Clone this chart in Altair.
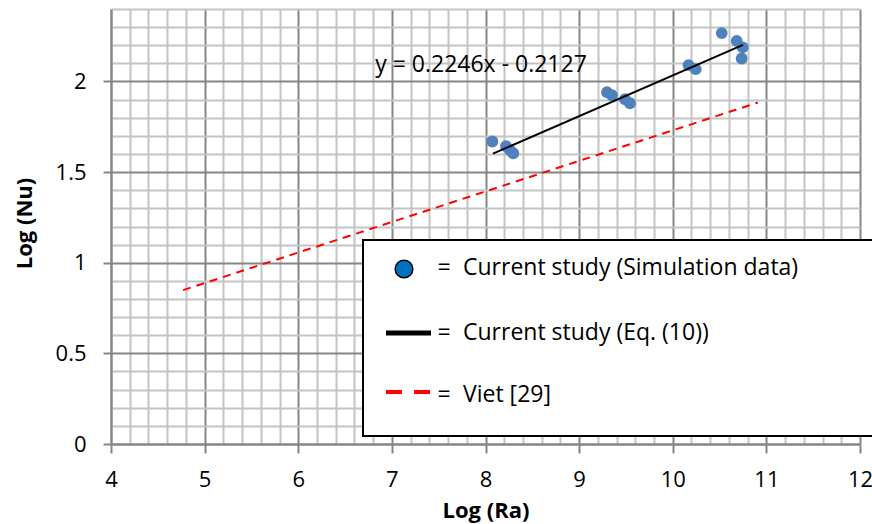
import altair as alt
import pandas as pd

# ---- data ----
ra = [8.073, 8.219, 8.262, 8.297, 9.298, 9.351, 9.490, 9.543,
      10.169, 10.245, 10.523, 10.683, 10.747, 10.736]
nu = [1.669, 1.643, 1.621, 1.604, 1.941, 1.924, 1.902, 1.880,
      2.090, 2.068, 2.267, 2.224, 2.188, 2.127]
fit_ra = [8.08, 10.75]
fit_nu = [1.602, 2.202]
viet_ra = [4.77, 10.91]
viet_nu = [0.849, 1.884]
x_ticks = [round(4 + 0.2 * i, 1) for i in range(41)]
y_ticks = [round(0.1 * i, 1) for i in range(25)]
legend_labels = ["Current study (Simulation data)", "Current study (Eq. (10))", "Viet [29]"]
equation = "y = 0.2246x - 0.2127"

FONT = "Open Sans"
MAJOR = "#868686"
MINOR = "#C4C4C4"

x_major = "abs(datum.value - round(datum.value)) < 1e-6"
y_major = "abs(datum.value * 2 - round(datum.value * 2)) < 1e-6"

x_axis = alt.Axis(
    values=x_ticks, format="~g", title="Log (Ra)",
    labelExpr=f"{x_major} ? datum.label : ''", labelOverlap=False, labelFlush=False,
    grid=True, gridWidth=2,
    gridColor={"condition": {"test": x_major, "value": MAJOR}, "value": MINOR},
    tickOpacity={"condition": {"test": x_major, "value": 1}, "value": 0},
    tickColor=MAJOR, tickWidth=2, tickSize=9,
    domainColor=MAJOR, domainWidth=2,
    labelFont=FONT, labelFontSize=22, labelColor="#000000", labelPadding=16,
    titleFont=FONT, titleFontSize=22, titleFontWeight="bold", titleColor="#000000",
    titleY=66, titleBaseline="middle",
)
y_axis = alt.Axis(
    values=y_ticks, format="~g", title="Log (Nu)",
    labelExpr=f"{y_major} ? datum.label : ''", labelOverlap=False, labelFlush=False,
    grid=True, gridWidth=2,
    gridColor={"condition": {"test": y_major, "value": MAJOR}, "value": MINOR},
    tickOpacity={"condition": {"test": y_major, "value": 1}, "value": 0},
    tickColor=MAJOR, tickWidth=2, tickSize=8,
    domainColor=MAJOR, domainWidth=2,
    labelFont=FONT, labelFontSize=22, labelColor="#000000", labelPadding=17,
    titleFont=FONT, titleFontSize=22, titleFontWeight="bold", titleColor="#000000",
    titleX=-87, titleY=214, titleAngle=270, titleAlign="center", titleBaseline="middle",
)

xs = alt.Scale(domain=[4, 12], nice=False, zero=False)
ys = alt.Scale(domain=[0, 2.4], nice=False, zero=False)
X = alt.X("ra:Q", scale=xs, axis=x_axis)
Y = alt.Y("nu:Q", scale=ys, axis=y_axis)

pts_df = pd.DataFrame({"ra": ra, "nu": nu})
fit_df = pd.DataFrame({"ra": fit_ra, "nu": fit_nu})
viet_df = pd.DataFrame({"ra": viet_ra, "nu": viet_nu})

viet = alt.Chart(viet_df).mark_line(color="#FF0000", strokeWidth=2, strokeDash=[8, 6]).encode(x=X, y=Y)
points = alt.Chart(pts_df).mark_circle(color="#4F81BD", opacity=1, size=140).encode(x=X, y=Y)
fit = alt.Chart(fit_df).mark_line(color="#000000", strokeWidth=2).encode(x=X, y=Y)

one = alt.Data(values=[{}])

eq_text = alt.Chart(one).mark_text(
    text=equation, font=FONT, fontSize=23, align="center", baseline="middle", color="#000000"
).encode(x=alt.value(370), y=alt.value(56))

legend_box = alt.Chart(one).mark_rect(
    fill="#FFFFFF", stroke="#000000", strokeWidth=2
).encode(x=alt.value(252), x2=alt.value(800), y=alt.value(231), y2=alt.value(427))

leg_circle = alt.Chart(one).mark_point(
    shape="circle", filled=True, fill="#0070C0", stroke="#000000", strokeWidth=1.5,
    size=314, opacity=1
).encode(x=alt.value(293), y=alt.value(260))

leg_line = alt.Chart(one).mark_rule(color="#000000", strokeWidth=5).encode(
    x=alt.value(275), x2=alt.value(320), y=alt.value(324))

leg_dash = alt.Chart(one).mark_rule(color="#FF0000", strokeWidth=4, strokeDash=[16, 12]).encode(
    x=alt.value(275), x2=alt.value(320), y=alt.value(383))

row_y = [259, 324, 386]
leg_layers = []
for lbl, yy in zip(legend_labels, row_y):
    leg_layers.append(alt.Chart(one).mark_text(
        text="=", font=FONT, fontSize=23, align="center", baseline="middle", color="#000000"
    ).encode(x=alt.value(333), y=alt.value(yy)))
    leg_layers.append(alt.Chart(one).mark_text(
        text=lbl, font=FONT, fontSize=23, align="left", baseline="middle", color="#000000"
    ).encode(x=alt.value(352), y=alt.value(yy)))

chart = alt.layer(
    viet, points, fit, eq_text, legend_box, leg_circle, leg_line, leg_dash, *leg_layers
).properties(
    width=749, height=435,
    padding={"left": 111, "top": 9, "right": 12, "bottom": 80},
    autosize=alt.AutoSizeParams(type="none"),
    background="#FFFFFF",
).configure_view(strokeWidth=0)

chart.save("out.html", embed_options={"renderer": "svg", "actions": False})
